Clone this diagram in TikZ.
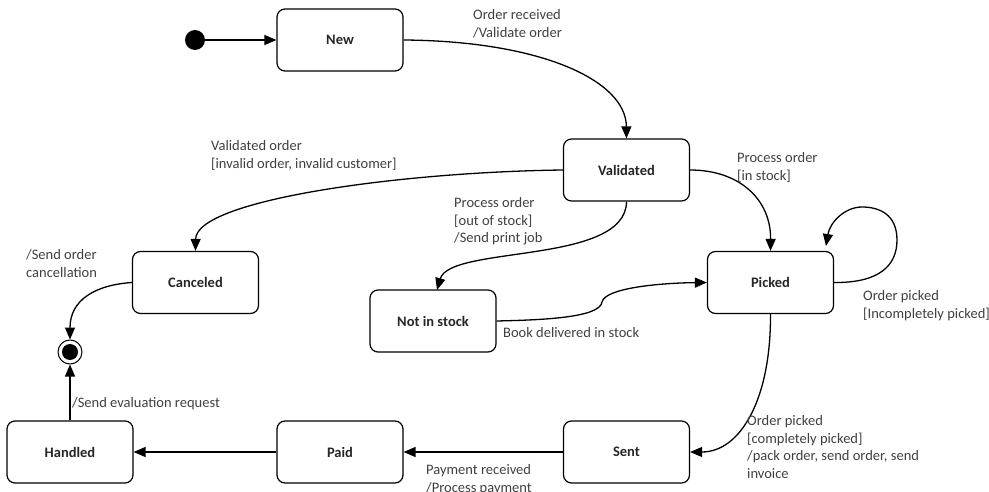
\documentclass[tikz,border=0pt]{standalone}
\usepackage{fontspec}
\setmainfont{Carlito}
\usetikzlibrary{arrows.meta}
\begin{document}
\begin{tikzpicture}[x=1pt,y=-1pt,
  state/.style={draw, rounded corners=8pt, line width=1.2pt, minimum width=126pt, minimum height=62pt, inner sep=0pt, font=\fontsize{14.5}{17}\selectfont\bfseries, text=black!85},
  arr/.style={line width=1.3pt, -{Triangle[length=12pt,width=10pt]}},
  lbl/.style={anchor=north west, inner sep=0pt, align=left, font=\fontsize{14.5}{17.5}\selectfont, text=black!75}]
\useasboundingbox (0,0) rectangle (989,492);
% states
\node[circle, fill, minimum size=20pt, inner sep=0pt] (init) at (195,40) {};
\node[state] (new) at (340,40) {New};
\node[state] (val) at (626.5,170) {Validated};
\node[state] (can) at (195.5,282.5) {Canceled};
\node[state] (nis) at (433,321) {Not in stock};
\node[state] (pick) at (770.5,282.5) {Picked};
\node[state] (hand) at (70,452) {Handled};
\node[state] (paid) at (340,452) {Paid};
\node[state] (sent) at (626.5,452) {Sent};
\node[circle, draw, line width=1pt, minimum size=24pt, inner sep=0pt] (final) at (70,352) {};
\fill (final.center) circle[radius=8];
\coordinate (loopend) at (826,246);
% transitions
\draw[arr] (init) -- (new);
\draw[arr] (new.east) .. controls (540,41) and (626,80) .. (val.north);
\draw[arr] (val.west) .. controls (400,172) and (196,200) .. (can.north);
\draw[arr] (val.south) .. controls (626,265) and (450,245) .. (437,290);
\draw[arr] (val.east) .. controls (740,170) and (771,200) .. (pick.north);
\draw[arr] (pick.east) .. controls (880,283) and (897,265) .. (897,240)
   .. controls (897,215) and (880,207) .. (862,207)
   .. controls (845,207) and (830,222) .. (loopend);
\draw[arr] (nis.east) .. controls (540,320) and (600,318) .. (602,302)
   .. controls (605,288) and (660,283) .. (pick.west);
\draw[arr] (pick.south) .. controls (771,400) and (740,452) .. (sent.east);
\draw[arr] (sent) -- (paid);
\draw[arr] (paid) -- (hand);
\draw[arr] (hand) -- (final);
\draw[arr] (can.west) .. controls (95,285) and (70,300) .. (final.north);
% labels
\node[lbl] (l1) at (473,9.4) {Order received\\/Validate order};
\node[lbl] (l2) at (211,140.4) {Validated order\\{[invalid order, invalid customer]}};
\node[lbl] (l3) at (454,197.4) {Process order\\{[out of stock]}\\/Send print job};
\node[lbl] (l4) at (737,152.4) {Process order\\{[in stock]}};
\node[lbl] (l5) at (26,249.4) {/Send order\\cancellation};
\node[lbl] (l6) at (863,290.4) {Order picked\\{[Incompletely picked]}};
\node[lbl] (l7) at (503,327.4) {Book delivered in stock};
\node[lbl] (l8) at (72,397.4) {/Send evaluation request};
\node[lbl] (l9) at (747,415.4) {Order picked\\{[completely picked]}\\/pack order, send order, send\\invoice};
\node[lbl] (l10) at (426,464.4) {Payment received\\/Process payment};
\end{tikzpicture}
\end{document}
